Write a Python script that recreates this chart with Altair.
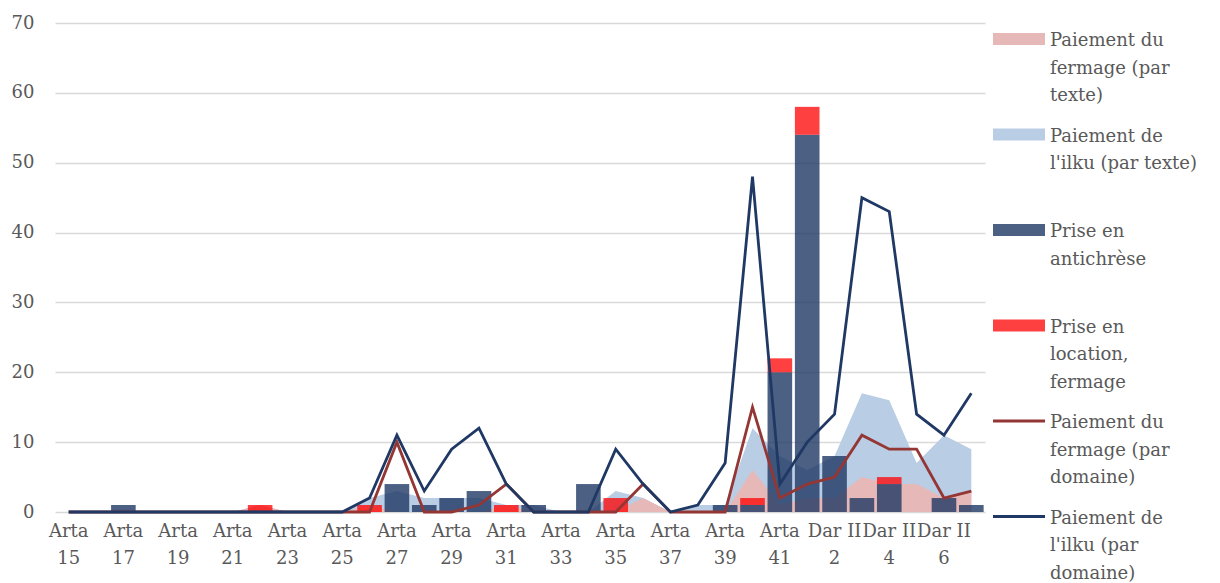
import altair as alt
import pandas as pd

# ---------------- data ----------------
categories = [f"Arta {n}" for n in range(15, 42)] + [f"Dar II {n}" for n in range(1, 8)]

# Paiement du fermage (par texte) - pink area (bottom of stack)
fermage_texte = [0, 0, 0, 0, 0, 0, 0, 1, 0, 0, 0, 1, 0, 0, 0, 0, 1, 0, 0, 0,
                 0, 2, 0, 0, 0, 6, 1, 2, 2, 5, 4, 4, 2, 3]
# Paiement de l'ilku (par texte) - blue area (stacked on pink)
ilku_texte = [0, 0, 0, 0, 0, 0, 0, 0, 0, 0, 0, 1, 3, 2, 2, 2, 0, 1, 0, 0,
              3, 0, 0, 1, 1, 6, 7, 4, 6, 12, 12, 3, 9, 6]
# Prise en antichrèse - navy checkered bars
antichrese = [0, 0, 1, 0, 0, 0, 0, 0, 0, 0, 0, 0, 4, 1, 2, 3, 0, 1, 0, 4,
              0, 0, 0, 0, 1, 1, 20, 54, 8, 2, 4, 0, 2, 1]
# Prise en location, fermage - red checkered bars (stacked on antichrèse)
location = [0, 0, 0, 0, 0, 0, 0, 1, 0, 0, 0, 1, 0, 0, 0, 0, 1, 0, 0, 0,
            2, 0, 0, 0, 0, 1, 2, 4, 0, 0, 1, 0, 0, 0]
# Paiement du fermage (par domaine) - dark red line
fermage_domaine = [0, 0, 0, 0, 0, 0, 0, 0, 0, 0, 0, 0, 10, 0, 0, 1, 4, 0, 0, 0,
                   0, 4, 0, 0, 0, 15, 2, 4, 5, 11, 9, 9, 2, 3]
# Paiement de l'ilku (par domaine) - navy line
ilku_domaine = [0, 0, 0, 0, 0, 0, 0, 0, 0, 0, 0, 2, 11, 3, 9, 12, 4, 0, 0, 0,
                9, 4, 0, 1, 7, 48, 4, 10, 14, 45, 43, 14, 11, 17]

legend_labels = [
    "Paiement du\nfermage (par\ntexte)",
    "Paiement de\nl'ilku (par texte)",
    "Prise en\nantichrèse",
    "Prise en\nlocation,\nfermage",
    "Paiement du\nfermage (par\ndomaine)",
    "Paiement de\nl'ilku (par\ndomaine)",
]

# ---------------- styles ----------------
FONT = "DejaVu Serif"
GRAY = "#595959"
NAVY = "#1F3864"
DARKRED = "#943634"
PINK = "#E6B9B8"
LIGHTBLUE = "#B9CDE5"
RED = "#FF0000"
NAVY_OP = 0.8
RED_OP = 0.75
LINE_W = 2.8

df = pd.DataFrame({
    "cat": categories,
    "fermage_texte": fermage_texte,
    "ilku_texte": ilku_texte,
    "antichrese": antichrese,
    "location": location,
    "fermage_domaine": fermage_domaine,
    "ilku_domaine": ilku_domaine,
})

x_enc = alt.X(
    "cat:N",
    sort=categories,
    scale=alt.Scale(paddingInner=0.1, paddingOuter=0.05),
    axis=alt.Axis(
        values=categories[::2],
        labelExpr="[slice(datum.label, 0, lastindexof(datum.label, ' ')), "
                  "slice(datum.label, lastindexof(datum.label, ' ') + 1)]",
        title=None, labelAngle=0, grid=False, domain=False, ticks=False,
        labelPadding=10, labelLineHeight=27, labelOverlap=False,
        labelFont=FONT, labelFontSize=18, labelColor=GRAY,
    ),
)

y_scale = alt.Scale(domain=[0, 70], nice=False)
y_axis = alt.Axis(
    values=list(range(0, 71, 10)), title=None, grid=True, gridColor="#D9D9D9",
    gridWidth=1.3, domain=False, ticks=False, labelPadding=21,
    labelFont=FONT, labelFontSize=18, labelColor=GRAY,
    minExtent=47, maxExtent=47,
)

base = alt.Chart(df)

blue_area = base.transform_calculate(
    ilku_top="datum.fermage_texte + datum.ilku_texte"
).mark_area(color=LIGHTBLUE, opacity=1).encode(
    x=x_enc, y=alt.Y("ilku_top:Q", scale=y_scale, axis=y_axis)
)
pink_area = base.mark_area(color=PINK, opacity=1).encode(
    x=x_enc, y=alt.Y("fermage_texte:Q", scale=y_scale, axis=y_axis)
)
bar_navy = base.transform_filter("datum.antichrese > 0").mark_bar(
    color=NAVY, fillOpacity=NAVY_OP
).encode(x=x_enc, y=alt.Y("antichrese:Q", scale=y_scale, axis=y_axis))
bar_red = base.transform_filter("datum.location > 0").transform_calculate(
    loc_top="datum.antichrese + datum.location"
).mark_bar(color=RED, fillOpacity=RED_OP).encode(
    x=x_enc, y=alt.Y("antichrese:Q", scale=y_scale, axis=y_axis), y2="loc_top:Q"
)
red_line = base.mark_line(color=DARKRED, strokeWidth=LINE_W).encode(
    x=x_enc, y=alt.Y("fermage_domaine:Q", scale=y_scale, axis=y_axis)
)
navy_line = base.mark_line(color=NAVY, strokeWidth=LINE_W).encode(
    x=x_enc, y=alt.Y("ilku_domaine:Q", scale=y_scale, axis=y_axis)
)

main = alt.layer(blue_area, pink_area, bar_navy, bar_red, red_line, navy_line).properties(
    width=930, height=489
)

# ---------------- legend ----------------
leg = pd.DataFrame({"k": list(range(len(legend_labels))), "label": legend_labels})
ly = alt.Y("k:O", scale=alt.Scale(type="point", range=[16, 493.5], padding=0), axis=None)
lbase = alt.Chart(leg)
RECT = "M-1,-0.23H1V0.23H-1Z"

leg_text = lbase.mark_text(
    align="left", baseline="top", dy=-7, lineBreak="\n", lineHeight=27.5,
    font=FONT, fontSize=18, color=GRAY,
).encode(x=alt.value(57), y=ly, text="label:N")


def sym(k, fill, op):
    return lbase.transform_filter(f"datum.k == {k}").mark_point(
        shape=RECT, size=2704, filled=True, fill=fill, opacity=op, strokeWidth=0
    ).encode(x=alt.value(26), y=ly)


sym_rline = lbase.transform_filter("datum.k == 4").mark_rule(
    color=DARKRED, strokeWidth=LINE_W
).encode(x=alt.value(0), x2=alt.value(52), y=ly)
sym_nline = lbase.transform_filter("datum.k == 5").mark_rule(
    color=NAVY, strokeWidth=LINE_W
).encode(x=alt.value(0), x2=alt.value(52), y=ly)

legend = alt.layer(
    leg_text, sym(0, PINK, 1), sym(1, LIGHTBLUE, 1), sym(2, NAVY, NAVY_OP),
    sym(3, RED, RED_OP), sym_rline, sym_nline
).properties(width=200, height=489)

chart = alt.hconcat(main, legend, spacing=8, bounds="flush").properties(
    padding={"left": 0, "top": 6, "right": 0, "bottom": 0},
    background="white",
).configure_view(strokeWidth=0, stroke="transparent")

chart.save("out.html", embed_options={"renderer": "svg", "actions": False})
